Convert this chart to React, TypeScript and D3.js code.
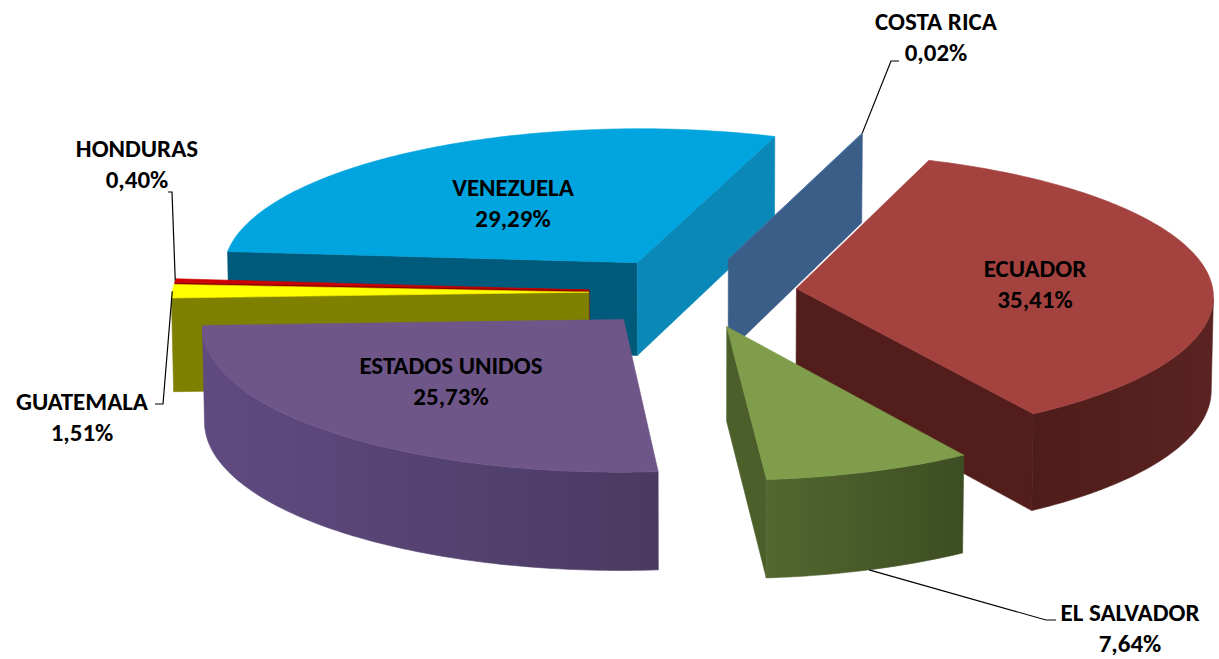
import React from "react";
import * as d3 from "d3";

// ---- data ----
const categories = ["COSTA RICA", "ECUADOR", "EL SALVADOR", "ESTADOS UNIDOS", "GUATEMALA", "HONDURAS", "VENEZUELA"];
const shares = [0.02, 35.41, 7.64, 25.73, 1.51, 0.4, 29.29];
const shareLabels = ["0,02%", "35,41%", "7,64%", "25,73%", "1,51%", "0,40%", "29,29%"];

// ---- colours per slice: top face, start wall, end wall, outer side (left -> right) ----
const topColors = ["#4A76A8", "#A4423F", "#7F9D4A", "#6F5689", "#FFFF00", "#D00000", "#00A4DE"];
const startWallColors = ["#3B5E88", "#6E2A28", "#5A7033", "#4A3B61", "#808000", "#8E0000", "#005A7B"];
const endWallColors = ["#3B5E88", "#521D1B", "#4C5F2A", "#5A4876", "#808000", "#8E0000", "#0A88B8"];
const sideLeft = ["#3B5E88", "#4E1C1A", "#52672F", "#604B81", "#858500", "#900000", "#006A90"];
const sideRight = ["#3B5E88", "#5A2321", "#3D4D23", "#4A3A61", "#7A7A00", "#900000", "#005878"];

// label layout (text centre x, first baseline y)
const labelPos: [number, number][] = [
  [936, 30], [1035, 277], [1130, 621], [451, 374], [82, 410], [137, 157], [513, 196],
];

const W = 1219;
const H = 659;
const CX = 693;
const CY = 386;
const SCALE = 415;
const TILT = (20.7 * Math.PI) / 180;
const DIST = 20;
const THICK = 0.24;
const EXPLODE = 0.25;
const ROT = (20 * Math.PI) / 180;

type P3 = [number, number, number];

function project(p: P3): [number, number] {
  const [x, y, z] = p;
  const yUp = y * Math.cos(TILT) - z * Math.sin(TILT);
  const dp = z * Math.cos(TILT) + y * Math.sin(TILT);
  const s = DIST / (DIST - dp);
  return [CX + x * SCALE * s, CY - yUp * SCALE * s];
}

const cam: P3 = [0, DIST * Math.sin(TILT), DIST * Math.cos(TILT)];
function facing(n: P3, p: P3) {
  return n[0] * (cam[0] - p[0]) + n[1] * (cam[1] - p[1]) + n[2] * (cam[2] - p[2]) > 0;
}

const lineGen = d3.line();
const closed = (pts: [number, number][]) => lineGen(pts) + "Z";

const pieGen = d3.pie<number>().sort(null).value((d) => d);
const arcs = pieGen(shares);

const slices = arcs.map((a, i) => {
  const p0 = a.startAngle + ROT;
  const p1 = a.endAngle + ROT;
  const pm = (p0 + p1) / 2;
  const ox = EXPLODE * Math.sin(pm);
  const oz = -EXPLODE * Math.cos(pm);
  const rim = (phi: number, y: number, r = 1): P3 => [ox + r * Math.sin(phi), y, oz - r * Math.cos(phi)];
  const apex = (y: number): P3 => [ox, y, oz];
  const steps = Math.max(2, Math.ceil(((p1 - p0) * 180) / Math.PI));
  const phis = d3.range(steps + 1).map((k) => p0 + ((p1 - p0) * k) / steps);

  const faces: { d: string; fill: string; grad?: [number, number, string, string] }[] = [];

  // start wall
  const n0: P3 = [-Math.cos(p0), 0, -Math.sin(p0)];
  if (facing(n0, rim(p0, THICK / 2, 0.5))) {
    faces.push({
      d: closed([apex(THICK), rim(p0, THICK), rim(p0, 0), apex(0)].map(project)),
      fill: startWallColors[i],
    });
  }
  // end wall
  const n1: P3 = [Math.cos(p1), 0, Math.sin(p1)];
  if (facing(n1, rim(p1, THICK / 2, 0.5))) {
    faces.push({
      d: closed([apex(THICK), rim(p1, THICK), rim(p1, 0), apex(0)].map(project)),
      fill: endWallColors[i],
    });
  }
  // outer side, visible runs
  let run: number[] = [];
  const runs: number[][] = [];
  for (let k = 0; k < phis.length - 1; k++) {
    const m = (phis[k] + phis[k + 1]) / 2;
    const vis = facing([Math.sin(m), 0, -Math.cos(m)], rim(m, THICK / 2));
    if (vis) {
      if (run.length === 0) run.push(phis[k]);
      run.push(phis[k + 1]);
    } else if (run.length) {
      runs.push(run);
      run = [];
    }
  }
  if (run.length) runs.push(run);
  runs.forEach((r) => {
    const pts = [...r.map((f) => project(rim(f, THICK))), ...r.slice().reverse().map((f) => project(rim(f, 0)))];
    const xs = pts.map((p) => p[0]);
    faces.push({
      d: closed(pts),
      fill: sideLeft[i],
      grad: [d3.min(xs)!, d3.max(xs)!, sideLeft[i], sideRight[i]],
    });
  });
  // top
  faces.push({
    d: closed([project(apex(THICK)), ...phis.map((f) => project(rim(f, THICK)))]),
    fill: topColors[i],
  });

  return { i, faces, pm, rim };
});

// painter's order: farthest point of each slice first
const depthKey = arcs.map((a) => {
  const p0 = a.startAngle + ROT;
  const p1 = a.endAngle + ROT;
  const pm = (p0 + p1) / 2;
  const oz = -EXPLODE * Math.cos(pm);
  const zs = d3.range(0, 1.0001, 0.02).map((t) => oz - Math.cos(p0 + (p1 - p0) * t));
  return d3.min([oz, ...zs])!;
});

const order = slices.slice().sort((a, b) => depthKey[a.i] - depthKey[b.i]);

// leader lines: anchor on the slice, then to the label
const sCR = slices[0];
const crA = project(sCR.rim(sCR.pm, THICK));
const sHN = slices[5];
const hnA = project(sHN.rim(sHN.pm, THICK));
const sGT = slices[4];
const gtA = project(sGT.rim(sGT.pm, THICK));
const sSV = slices[2];
const svA = project(sSV.rim(sSV.pm, 0));

const leaders: [number, number][][] = [
  [crA, [891, 61], [899, 61]],
  [hnA, [172, 192], [168, 192]],
  [gtA, [163, 404], [155, 404]],
  [svA, [1046, 620], [1056, 620]],
];

export default function App() {
  return (
    <svg width={W} height={H} style={{ display: "block", position: "absolute", left: 0, top: 0 }}>
      <defs>
        {order.map((s) =>
          s.faces.map((f, j) =>
            f.grad ? (
              <linearGradient key={`g${s.i}-${j}`} id={`g${s.i}-${j}`} gradientUnits="userSpaceOnUse" x1={f.grad[0]} x2={f.grad[1]} y1={0} y2={0}>
                <stop offset="0" stopColor={f.grad[2]} />
                <stop offset="1" stopColor={f.grad[3]} />
              </linearGradient>
            ) : null
          )
        )}
      </defs>
      <rect width={W} height={H} fill="#ffffff" />
      {order.map((s) => (
        <g key={s.i}>
          {s.faces.map((f, j) => (
            <path key={j} d={f.d} fill={f.grad ? `url(#g${s.i}-${j})` : f.fill} stroke={f.grad ? `url(#g${s.i}-${j})` : f.fill} strokeWidth={0.6} strokeLinejoin="round" />
          ))}
        </g>
      ))}
      {leaders.map((pts, k) => (
        <path key={k} d={lineGen(pts)!} fill="none" stroke="#000" strokeWidth={1.2} />
      ))}
      <g fontFamily="Carlito, Calibri, Lato, sans-serif" fontWeight={700} fontSize={25} fill="#000" textAnchor="middle">
        {categories.map((c, i) => (
          <text key={c} x={labelPos[i][0]} y={labelPos[i][1]}>
            <tspan x={labelPos[i][0]}>{c}</tspan>
            <tspan x={labelPos[i][0]} dy={31}>{shareLabels[i]}</tspan>
          </text>
        ))}
      </g>
    </svg>
  );
}
